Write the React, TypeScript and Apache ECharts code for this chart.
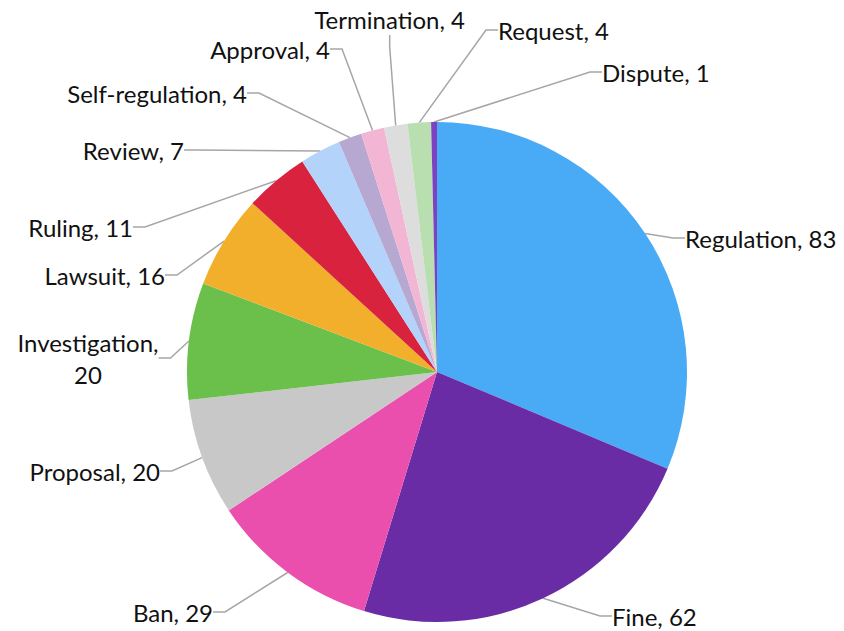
import React, { useEffect, useRef } from "react";
import * as echarts from "echarts";

const categories = [
  "Regulation", "Fine", "Ban", "Proposal", "Investigation", "Lawsuit", "Ruling",
  "Review", "Self-regulation", "Approval", "Termination", "Request", "Dispute",
];
const values = [83, 62, 29, 20, 20, 16, 11, 7, 4, 4, 4, 4, 1];
const colors = [
  "#49AAF6", "#6A2CA5", "#EA4FAD", "#C8C8C8", "#6BBF4B", "#F2AF2B", "#D9223D",
  "#B3D3FA", "#B6A8D1", "#F2B5D4", "#DDDDDD", "#B9DEAF", "#7C42C2",
];
// label anchor: [x, y, align]
const labelPos: [number, number, string][] = [
  [685, 238, "left"],
  [612, 616, "left"],
  [213, 612, "right"],
  [160, 471, "right"],
  [88, 358, "center"],
  [165, 275, "right"],
  [133, 227, "right"],
  [184, 150, "right"],
  [247, 93, "right"],
  [330, 49, "right"],
  [465, 19, "right"],
  [498, 30, "left"],
  [602, 72, "left"],
];

export default function App() {
  const ref = useRef<HTMLDivElement>(null);
  useEffect(() => {
    const chart = echarts.init(ref.current!, null, { renderer: "svg" });
    const data = categories.map((name, i) => ({
      name,
      value: values[i],
      itemStyle: { color: colors[i] },
      label: name === "Investigation" ? { formatter: "{b},\n{c}", align: "center" } : undefined,
    }));
    chart.setOption({
      animation: false,
      backgroundColor: "#ffffff",
      series: [
        {
          type: "pie",
          center: [437, 372],
          radius: 250,
          startAngle: 90,
          clockwise: true,
          data,
          itemStyle: { borderWidth: 0 },
          label: {
            show: true,
            position: "outside",
            formatter: "{b}, {c}",
            fontFamily: "Lato, 'Open Sans', sans-serif",
            fontSize: 24,
            color: "#111111",
            lineHeight: 32,
          },
          labelLine: {
            show: true,
            length: 20,
            length2: 12,
            smooth: false,
            lineStyle: { color: "#A6A6A6", width: 1.5 },
          },
          labelLayout: (params: any) => {
            const p = labelPos[params.dataIndex];
            return {
              x: p[0],
              y: p[1],
              align: p[2],
              verticalAlign: "middle",
            };
          },
        },
      ],
    });
    return () => chart.dispose();
  }, []);
  return (
    <div
      ref={ref}
      style={{ position: "fixed", left: 0, top: 0, width: 844, height: 631 }}
    />
  );
}
